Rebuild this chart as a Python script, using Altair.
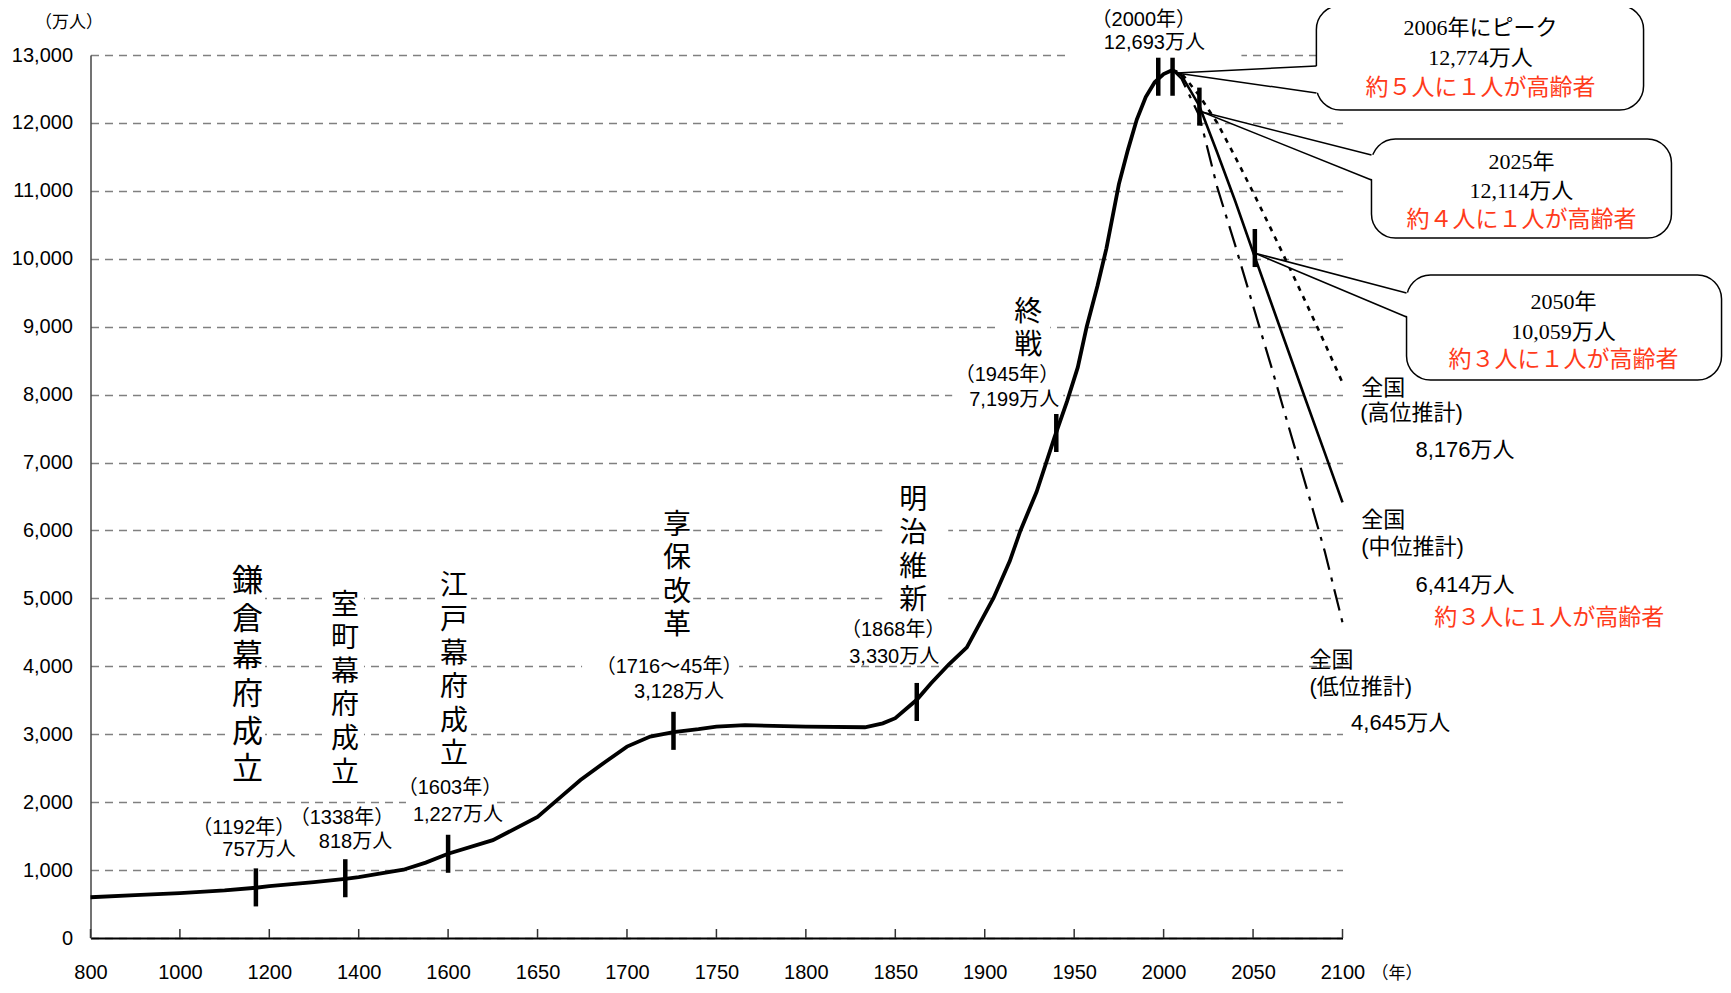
import altair as alt
import pandas as pd

# ---------------- values ----------------
# historical population (year, 万人)
hist_year = [800, 900, 1000, 1100, 1170, 1200, 1300, 1370, 1400, 1450, 1500, 1550, 1600,
             1625, 1650, 1664, 1674, 1688, 1700, 1713, 1726, 1740, 1750, 1766, 1800, 1833,
             1843, 1850, 1862, 1870, 1880, 1890, 1897, 1905, 1914, 1920, 1929, 1939, 1946,
             1952, 1957, 1963, 1968, 1975, 1980, 1985, 1990, 1995, 2000, 2005]
hist_pop = [600, 630, 660, 700, 740, 763, 822, 872, 897, 950, 1005, 1110, 1241,
            1440, 1783, 2100, 2325, 2596, 2818, 2966, 3030, 3074, 3113, 3133, 3113, 3103,
            3160, 3236, 3507, 3750, 4030, 4280, 4620, 5010, 5550, 6000, 6570, 7370, 7900,
            8400, 9000, 9600, 10150, 11100, 11600, 12050, 12380, 12600, 12720, 12780]

# projections
proj_year = [2005, 2010, 2020, 2030, 2040, 2050, 2060, 2070, 2080, 2090, 2100]
mid_pop = [12780, 12700, 12250, 11560, 10850, 10100, 9360, 8620, 7880, 7150, 6414]
high_pop = [12780, 12730, 12400, 12000, 11500, 10980, 10440, 9890, 9330, 8760, 8176]
low_pop = [12780, 12650, 12100, 11050, 10200, 9310, 8430, 7520, 6620, 5700, 4645]

# event markers (drawn position)
marker_year = [1170, 1370, 1600, 1726, 1862, 1940, 1997, 2005, 2020, 2051]
marker_pop = [745, 880, 1240, 3050, 3475, 7435, 12680, 12680, 12240, 10158]

# axes
x_ticks = [800, 1000, 1200, 1400, 1600, 1650, 1700, 1750, 1800, 1850, 1900, 1950, 2000, 2050, 2100]
y_ticks = list(range(0, 13001, 1000))

# vertical event labels
event_big_text = ["鎌倉幕府成立"]
event_big_year = [1151.5]
event_big_pop = [5458]
event_text = ["室町幕府成立", "江戸幕府成立", "享保改革", "明治維新", "終戦"]
event_year = [1369.3, 1603.3, 1728.0, 1860.0, 1924.3]
event_pop = [5101, 5367, 6279, 6647, 9415]

# year / population labels
yl_text = ["（1192年）", "757万人", "（1338年）", "818万人", "（1603年）", "1,227万人",
           "（1716～45年）", "3,128万人", "（1868年）", "3,330万人", "（1945年）", "7,199万人",
           "（2000年）", "12,693万人"]
yl_year = [1143, 1177, 1362.6, 1392.8, 1601, 1605.5, 1723.5, 1729.1, 1848.8, 1849.4,
           1912.4, 1916.5, 1988.9, 1994.8]
yl_pop = [1620, 1296, 1767, 1413, 2208, 1811, 3990, 3622, 4535, 4137, 8289, 7921, 13516, 13177]

# white text-box backgrounds (interrupt the gridlines as in the original)
tb_x1 = [1103.1, 1317.9, 1570.7, 1718.0, 1842.7, 1907.0, 1881.8, 1946.1, 1674.9, 1505.8]
tb_x2 = [1190.4, 1411.8, 1612.8, 1737.0, 1879.6, 1936.6, 1943.9, 2043.5, 1762.7, 1625.7]
tb_y1 = [2253, 2179, 2253, 4314, 4800, 8510, 7774, 12897, 3460, 1590]
tb_y2 = [5786, 5197, 5565, 6301, 6802, 9541, 8480, 13737, 4270, 2400]

# right-side projection labels
rl_text = ["全国", "(高位推計)", "8,176万人", "全国", "(中位推計)", "6,414万人",
           "全国", "(低位推計)", "4,645万人"]
rl_year = [2110.5, 2109.9, 2140.8, 2110.5, 2110.5, 2140.8, 2081.5, 2081.5, 2104.8]
rl_pop = [8098, 7730, 7185, 6154, 5757, 5197, 4093, 3695, 3165]
red_text = ["約３人に１人が高齢者"]
red_year = [2151.3]
red_pop = [4711]

# callouts
box_x1 = [2085.4, 2116.2, 2135.8]
box_x2 = [2268.3, 2283.9, 2311.9]
box_y1 = [12191, 10306, 8215]
box_y2 = [13729, 11764, 9761]
tip_year = [2007.1, 2021.6, 2050.7]
tip_pop = [12735, 12161, 10085]
base_top = [12839, 11528, 9496]
base_bot = [12441, 11160, 9143]
call_l1 = ["2006年にピーク", "2025年", "2050年"]
call_l2 = ["12,774万人", "12,114万人", "10,059万人"]
call_l3 = ["約５人に１人が高齢者", "約４人に１人が高齢者", "約３人に１人が高齢者"]
call_x = [2177.1, 2200.0, 2223.6]
call_y1 = [13398, 11425, 9364]
call_y2 = [12956, 10998, 8922]
call_y3 = [12515, 10571, 8510]

# ---------------- styling ----------------
SANS = "Liberation Sans, Arial, Noto Sans CJK JP, sans-serif"
SERIF = "Liberation Serif, Times New Roman, Noto Sans CJK JP, serif"
CJK = "Noto Sans CJK JP, sans-serif"
RED = "#ff3a1a"

W, H = 1252, 883
XS = alt.Scale(domain=[800, 1600, 2100], range=[0, 357.6, W], nice=False, zero=False)
YS = alt.Scale(domain=[0, 13000], nice=False, zero=False)
XAXIS = alt.Axis(values=x_ticks, format="d", title="（年）", ticks=False, tickSize=0,
                 labelFont=SANS, labelFontSize=20, labelColor="black", labelPadding=24,
                 labelFlush=False, labelOverlap=False, domainColor="black", domainWidth=2,
                 grid=False, titleFont=CJK, titleFontSize=17, titleFontWeight="normal",
                 titleAngle=0, titleX=1306, titleY=35, titleAlign="center",
                 titleBaseline="middle", titleColor="black")
YAXIS = alt.Axis(values=y_ticks, format=",.0f", title="（万人）", ticks=False, tickSize=0,
                 labelFont=SANS, labelFontSize=20, labelColor="black", labelPadding=18,
                 labelOverlap=False, domainColor="#444", domainWidth=1.5,
                 grid=True, gridColor="#808080", gridDash=[8, 6], gridWidth=1.3,
                 titleFont=CJK, titleFontSize=17, titleFontWeight="normal",
                 titleAngle=0, titleX=-22, titleY=-33, titleAlign="center",
                 titleBaseline="middle", titleColor="black")


def X(f="year"):
    return alt.X(f, type="quantitative", scale=XS, axis=XAXIS)


def Y(f="pop"):
    return alt.Y(f, type="quantitative", scale=YS, axis=YAXIS)


hist_df = pd.DataFrame({"year": hist_year, "pop": hist_pop})
mid_df = pd.DataFrame({"year": proj_year, "pop": mid_pop})
high_df = pd.DataFrame({"year": proj_year, "pop": high_pop})
low_df = pd.DataFrame({"year": proj_year, "pop": low_pop})
mark_df = pd.DataFrame({"year": marker_year, "pop": marker_pop})
tick_df = pd.DataFrame({"year": x_ticks})
tb_df = pd.DataFrame({"x1": tb_x1, "x2": tb_x2, "y1": tb_y1, "y2": tb_y2})

textboxes = alt.Chart(tb_df).mark_rect(color="white").encode(
    x=X("x1"), x2="x2", y=Y("y1"), y2="y2")

ticks = alt.Chart(tick_df).mark_rule(color="#333", strokeWidth=1.5).encode(
    x=X(), y=alt.value(H), y2=alt.value(H - 9))

hist = alt.Chart(hist_df).mark_line(color="black", strokeWidth=3.8).encode(x=X(), y=Y())
mid = alt.Chart(mid_df).mark_line(color="black", strokeWidth=2.6).encode(x=X(), y=Y())
high = alt.Chart(high_df).mark_line(color="black", strokeWidth=2.6,
                                    strokeDash=[5, 6]).encode(x=X(), y=Y())
low = alt.Chart(low_df).mark_line(color="black", strokeWidth=2.2,
                                  strokeDash=[22, 8, 4, 8]).encode(x=X(), y=Y())

markers = alt.Chart(mark_df).transform_calculate(
    lo="datum.pop - 280", hi="datum.pop + 280"
).mark_rule(color="black", strokeWidth=4.5).encode(x=X(), y=Y("lo"), y2="hi")

box_df = pd.DataFrame({"x1": box_x1, "x2": box_x2, "y1": box_y1, "y2": box_y2})
boxes = alt.Chart(box_df).mark_rect(cornerRadius=24, fill="white", stroke="black",
                                    strokeWidth=1.5).encode(
    x=X("x1"), x2="x2", y=Y("y1"), y2="y2")

wedge_rows = []
edge_rows = []
for i in range(3):
    wedge_rows.append({"id": i, "year": tip_year[i], "pop": tip_pop[i], "pop2": tip_pop[i]})
    wedge_rows.append({"id": i, "year": box_x1[i] + 1.5, "pop": base_top[i], "pop2": base_bot[i]})
    edge_rows.append({"year": tip_year[i], "pop": tip_pop[i], "year2": box_x1[i], "pop2": base_top[i]})
    edge_rows.append({"year": tip_year[i], "pop": tip_pop[i], "year2": box_x1[i], "pop2": base_bot[i]})
wedge = alt.Chart(pd.DataFrame(wedge_rows)).mark_area(color="white", opacity=1).encode(
    x=X(), y=Y(), y2="pop2", detail="id:N")
edges = alt.Chart(pd.DataFrame(edge_rows)).mark_rule(color="black", strokeWidth=1.5).encode(
    x=X(), y=Y(), x2="year2", y2="pop2")


def text_layer(texts, years, pops, **kw):
    df = pd.DataFrame({"t": texts, "year": years, "pop": pops})
    return alt.Chart(df).mark_text(**kw).encode(x=X(), y=Y(), text="t:N")


ev_big = text_layer(["\n".join(s) for s in event_big_text], event_big_year, event_big_pop,
                    font=CJK, fontSize=31, lineHeight=37.6, lineBreak="\n",
                    align="center", baseline="top", color="black")
ev = text_layer(["\n".join(s) for s in event_text], event_year, event_pop,
                font=CJK, fontSize=28, lineHeight=33.6, lineBreak="\n",
                align="center", baseline="top", color="black")
yl = text_layer(yl_text, yl_year, yl_pop, font=SANS, fontSize=20, align="center",
                baseline="middle", color="black")
rl = text_layer(rl_text, rl_year, rl_pop, font=SANS, fontSize=22, align="left",
                baseline="middle", color="black")
rr = text_layer(red_text, red_year, red_pop, font=CJK, fontSize=23, align="left",
                baseline="middle", color=RED)
c1 = text_layer(call_l1, call_x, call_y1, font=SERIF, fontSize=22, align="center",
                baseline="middle", color="black")
c2 = text_layer(call_l2, call_x, call_y2, font=SERIF, fontSize=22, align="center",
                baseline="middle", color="black")
c3 = text_layer(call_l3, call_x, call_y3, font=CJK, fontSize=23, align="center",
                baseline="middle", color=RED)

chart = alt.layer(
    textboxes, ticks, low, high, hist, mid, markers, boxes, wedge, edges,
    ev_big, ev, yl, rl, rr, c1, c2, c3
).properties(
    width=W, height=H,
    padding={"left": 82.5, "top": 47, "right": 380.5, "bottom": 47},
    autosize=alt.AutoSizeParams(type="none"),
    background="white",
).configure_view(stroke=None)

chart.save("out.html", embed_options={"renderer": "svg", "actions": False})
